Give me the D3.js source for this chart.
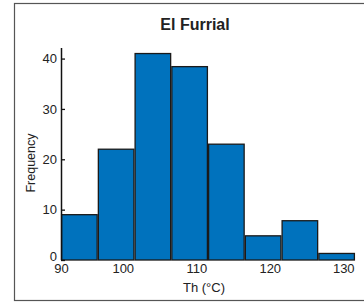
<!DOCTYPE html>
<html>
<head>
<meta charset="utf-8">
<script src="https://cdn.jsdelivr.net/npm/d3@7"></script>
<style>
body { margin: 0; background: #fff; }
text { font-family: "Liberation Sans", Arial, sans-serif; fill: #222; }
</style>
</head>
<body>
<script>
// histogram bins (Th, °C) and counts
var binStart = [91.6, 96.6, 101.6, 106.6, 111.6, 116.6, 121.6, 126.6];
var binWidth = 5;
var counts = [9, 22, 41, 38.4, 23, 4.8, 7.8, 1.3];
var xTicks = [91.6, 100, 110, 120, 130];
var xTickLabels = ["90", "100", "110", "120", "130"];
var yTicks = [0, 10, 20, 30, 40];

var width = 364, height = 303;
var margin = {top: 48, bottom: 43, left: 61, right: 9};

var svg = d3.select("body").append("svg")
    .attr("width", width)
    .attr("height", height);

// outer frame (right side runs off the picture)
svg.append("rect")
    .attr("x", 14.5).attr("y", 3.5)
    .attr("width", 400).attr("height", 297)
    .attr("fill", "none")
    .attr("stroke", "#555")
    .attr("stroke-width", 1.2);

var x = d3.scaleLinear()
    .domain([91.6, 131.6])
    .range([margin.left, width - margin.right]);

var y = d3.scaleLinear()
    .domain([0, 42.1])
    .range([height - margin.bottom, margin.top]);

// bars
svg.selectAll(".bar")
    .data(counts)
    .enter()
    .append("rect")
    .attr("class", "bar")
    .attr("x", function(d, i){ return x(binStart[i]) + 0.6; })
    .attr("width", function(d, i){ return x(binStart[i] + binWidth) - x(binStart[i]) - 1.2; })
    .attr("y", function(d){ return y(d); })
    .attr("height", function(d){ return y(0) - y(d); })
    .attr("fill", "#0072BD")
    .attr("stroke", "#1a1a1a")
    .attr("stroke-width", 1.3);

// x axis labels (ticks are inside and hidden by the bars)
svg.append("g")
    .attr("transform", "translate(0," + y(0) + ")")
    .call(d3.axisBottom(x)
        .tickValues(xTicks)
        .tickSize(0)
        .tickPadding(4)
        .tickFormat(function(d, i){ return xTickLabels[i]; }))
    .call(function(g){
        g.select(".domain").remove();
        g.selectAll("text").style("font-size", "13px").attr("fill", "#222")
            .attr("font-family", null);
    });

// y axis, ticks pointing inward
var yAxis = svg.append("g")
    .attr("transform", "translate(" + margin.left + ",0)")
    .call(d3.axisRight(y)
        .tickValues(yTicks)
        .tickSize(4)
        .tickSizeOuter(0)
        .tickFormat(d3.format("d")))
    .call(function(g){
        g.select(".domain").attr("stroke", "#111").attr("stroke-width", 1.5)
            .attr("d", "M0.5," + margin.top + "V" + y(0));
        g.selectAll("line").attr("stroke", "#111").attr("stroke-width", 1.3);
        g.selectAll("text")
            .attr("x", -4)
            .attr("dy", "0.32em")
            .attr("text-anchor", "end")
            .attr("fill", "#222")
            .attr("font-family", null)
            .style("font-size", "13px");
    });
yAxis.selectAll(".tick text").filter(function(d){ return d === 0; }).attr("dy", "0.05em");

// title
svg.append("text")
    .attr("x", 195)
    .attr("y", 30)
    .attr("text-anchor", "middle")
    .style("font-size", "16px")
    .style("font-weight", "bold")
    .text("El Furrial");

// axis titles
svg.append("text")
    .attr("x", 204)
    .attr("y", 292)
    .attr("text-anchor", "middle")
    .style("font-size", "13px")
    .text("Th (°C)");

svg.append("text")
    .attr("transform", "translate(35,163) rotate(-90)")
    .attr("text-anchor", "middle")
    .style("font-size", "12.5px")
    .text("Frequency");
</script>
</body>
</html>
